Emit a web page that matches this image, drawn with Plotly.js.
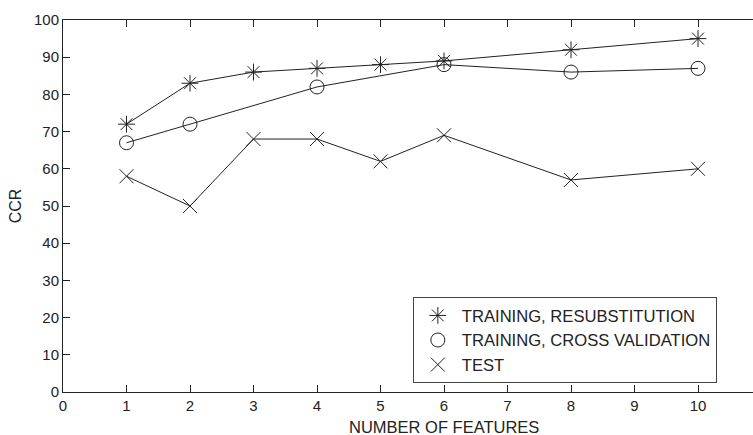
<!DOCTYPE html>
<html><head><meta charset="utf-8">
<script src="https://cdn.plot.ly/plotly-3.0.1.min.js"></script>
<style>html,body{margin:0;padding:0;background:#fff}</style>
</head><body>
<div id="chart" style="width:753px;height:435px"></div>
<script>
const resubX = [1, 2, 3, 4, 5, 6, 8, 10];
const resubY = [72, 83, 86, 87, 88, 89, 92, 95];
const cvX = [1, 2, 4, 6, 8, 10];
const cvY = [67, 72, 82, 88, 86, 87];
const testX = [1, 2, 3, 4, 5, 6, 8, 10];
const testY = [58, 50, 68, 68, 62, 69, 57, 60];
const seriesNames = ['TRAINING, RESUBSTITUTION', 'TRAINING, CROSS VALIDATION', 'TEST'];
const symbols = ['asterisk-open', 'circle-open', 'x-thin-open'];
const xTicks = [0,1,2,3,4,5,6,7,8,9,10];
const yTicks = [0,10,20,30,40,50,60,70,80,90,100];

const ink = '#222';
const lineStyle = {color: ink, width: 1};
const data = [[resubX, resubY], [cvX, cvY], [testX, testY]];
const traces = [];
data.forEach((d, i) => {
  traces.push({x: d[0], y: d[1], name: seriesNames[i], mode: 'lines+markers', line: lineStyle,
    showlegend: false,
    marker: {symbol: symbols[i], size: 14, color: ink, line: {color: ink, width: 1}}});
});
// legend entries: markers only
data.forEach((d, i) => {
  traces.push({x: [null], y: [null], name: seriesNames[i], mode: 'markers',
    marker: {symbol: symbols[i], size: 14, color: ink, line: {color: ink, width: 1}}});
});

const layout = {
  width: 753, height: 435,
  margin: {l: 63, r: 0, t: 20, b: 43},
  paper_bgcolor: '#fff', plot_bgcolor: '#fff',
  font: {family: 'Liberation Sans, Arial, sans-serif', size: 15, color: ink},
  xaxis: {range: [0, 10.866], tickvals: xTicks, ticktext: xTicks.map(String),
    showgrid: false, zeroline: false, showline: true, linecolor: ink, linewidth: 1,
    mirror: 'ticks', ticks: 'inside', ticklen: 7, tickcolor: ink,
    tickfont: {size: 15}},
  yaxis: {range: [0, 100], tickvals: yTicks, ticktext: yTicks.map(String),
    showgrid: false, zeroline: false, showline: true, linecolor: ink, linewidth: 1,
    ticks: 'inside', ticklen: 7, tickcolor: ink, tickfont: {size: 15},
    title: {text: 'CCR', font: {size: 16}, standoff: 8}},
  annotations: [{text: 'NUMBER OF FEATURES', xref: 'x', yref: 'paper', x: 6, y: -0.093,
    xanchor: 'center', yanchor: 'middle', showarrow: false, font: {size: 16.5, color: ink}}],
  showlegend: true,
  legend: {x: 0.507, y: 0.255, xanchor: 'left', yanchor: 'top', bgcolor: '#fff',
    bordercolor: '#444', borderwidth: 1, font: {size: 16.6}, tracegroupgap: 0,
    itemwidth: 38},
  hovermode: false
};
Plotly.newPlot('chart', traces, layout, {displayModeBar: false, staticPlot: true});
</script>
</body></html>
